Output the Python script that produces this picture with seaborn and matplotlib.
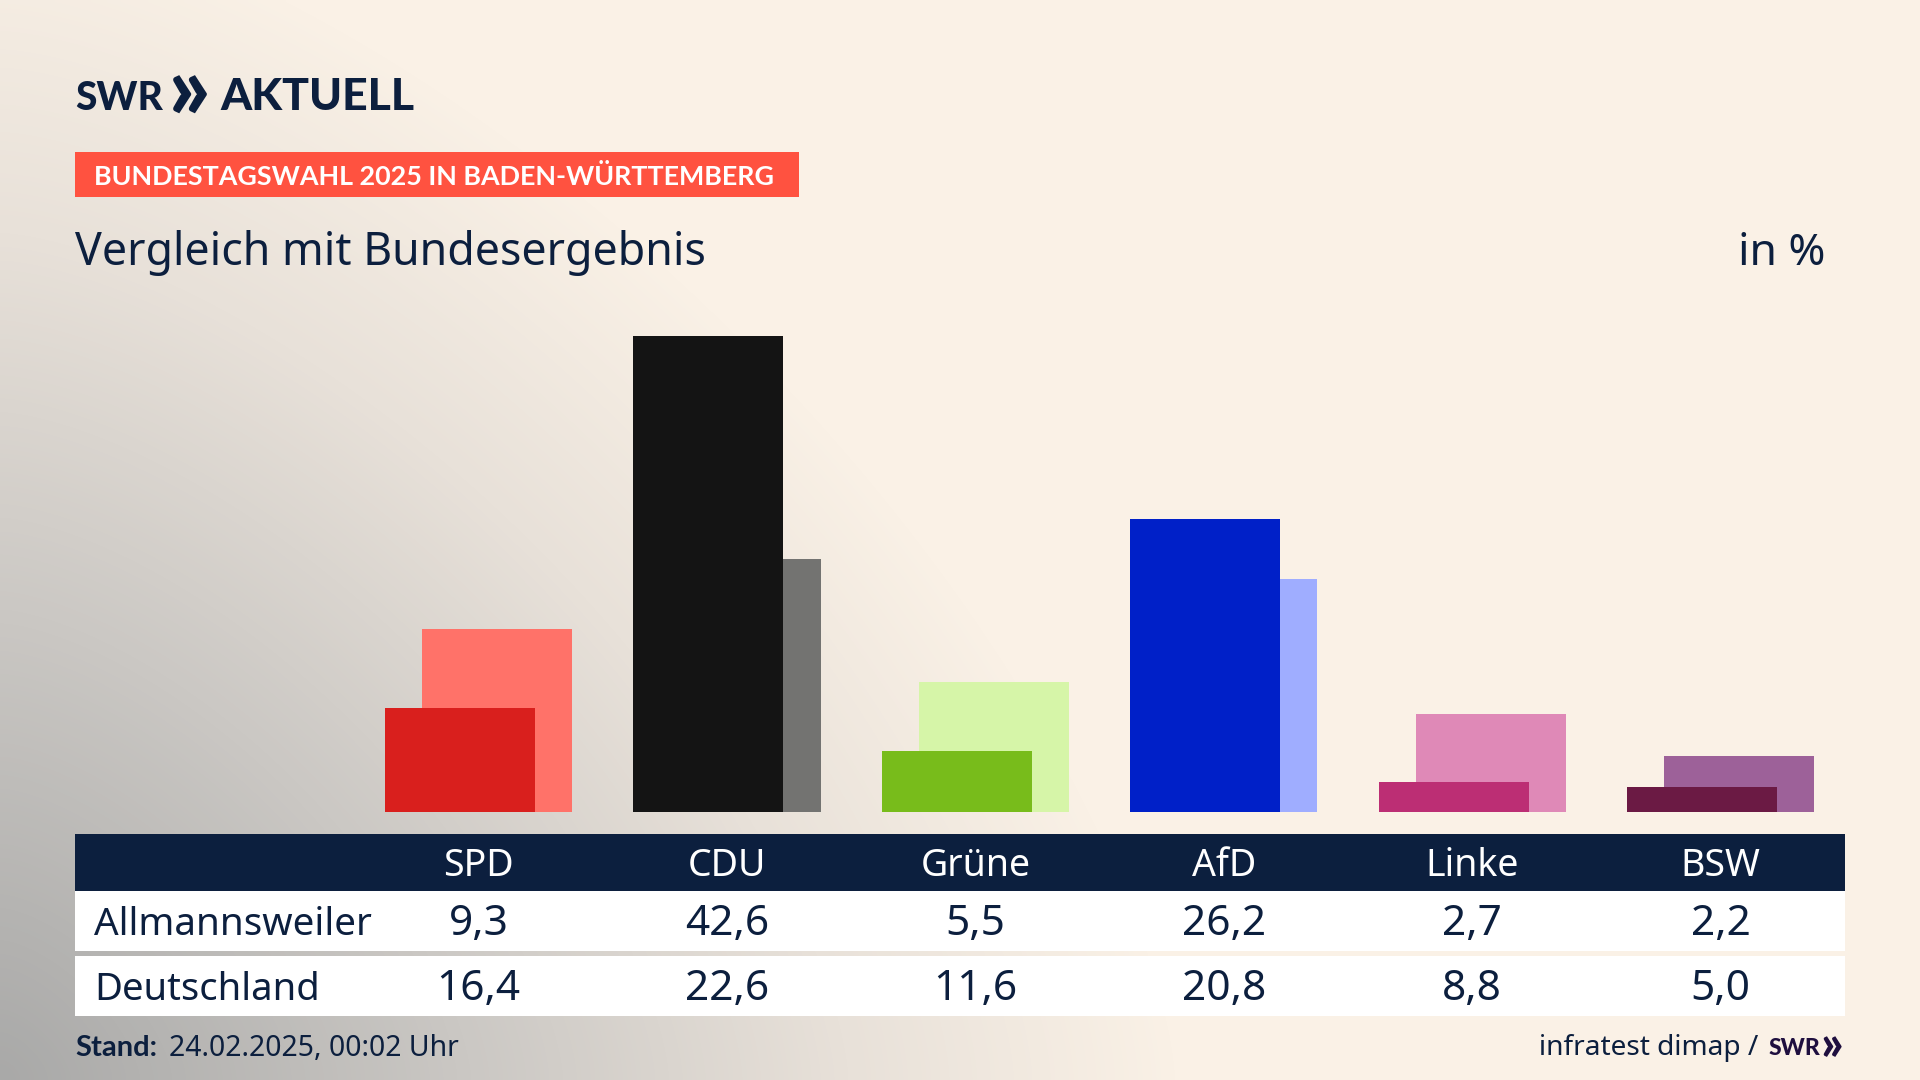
import matplotlib
matplotlib.use("Agg")
import matplotlib.pyplot as plt
from matplotlib.colors import LinearSegmentedColormap
from matplotlib.patches import Rectangle
import numpy as np
import pandas as pd
import seaborn as sns

parties = ["SPD", "CDU", "Grüne", "AfD", "Linke", "BSW"]
allmannsweiler = [9.3, 42.6, 5.5, 26.2, 2.7, 2.2]
deutschland = [16.4, 22.6, 11.6, 20.8, 8.8, 5.0]
front_colors = ["#D91F1D", "#141414", "#78BC1B", "#0020C8", "#BC2E74", "#6B1A44"]
back_colors = ["#FF7269", "#737371", "#D6F5A8", "#9FADFF", "#DF89B7", "#9D6199"]
row_labels = ["Allmannsweiler", "Deutschland"]

NAVY = "#0C1F3E"
CREAM = "#FAF1E6"
WIDTH, HEIGHT = 1920, 1080

# pixel layout of the bar area
BASELINE = 812
PX_PER_UNIT = 11.18
GROUP_STEP = 248.4
FIRST_GROUP = 478.6
BAR_OFFSET = 18.6 / GROUP_STEP
BAR_WIDTH = 150 / GROUP_STEP

sns.set_theme(style="white")
plt.rcParams["font.family"] = ["Noto Sans", "DejaVu Sans"]

fig = plt.figure(figsize=(19.2, 10.8), dpi=100)

# background, pixel coordinates
ax_bg = fig.add_axes([0, 0, 1, 1], zorder=0)
yy, xx = np.mgrid[0:HEIGHT:270j, 0:WIDTH:480j]
dist = ((xx / 1180) ** 1.5 + ((HEIGHT - yy) / 1180) ** 1.5) ** (1 / 1.5)
cmap = LinearSegmentedColormap.from_list(
    "bg", [(0, "#A9A9A8"), (0.4, "#CBC8C4"), (0.72, "#E8E1D9"), (1, CREAM)]
)
ax_bg.imshow(np.clip(dist, 0, 1), cmap=cmap, vmin=0, vmax=1, aspect="auto",
             extent=[0, WIDTH, HEIGHT, 0], interpolation="bilinear")
ax_bg.set_xlim(0, WIDTH)
ax_bg.set_ylim(HEIGHT, 0)
ax_bg.axis("off")

# bars
ax = fig.add_axes([0, 0, 1, 1], zorder=1)
ax.patch.set_alpha(0)
idx = np.arange(len(parties))
df_back = pd.DataFrame({"x": idx + BAR_OFFSET, "value": deutschland, "party": parties})
df_front = pd.DataFrame({"x": idx - BAR_OFFSET, "value": allmannsweiler, "party": parties})
sns.barplot(data=df_back, x="x", y="value", hue="party", palette=back_colors, dodge=False,
            native_scale=True, width=BAR_WIDTH, saturation=1, legend=False, linewidth=0, ax=ax)
sns.barplot(data=df_front, x="x", y="value", hue="party", palette=front_colors, dodge=False,
            native_scale=True, width=BAR_WIDTH, saturation=1, legend=False, linewidth=0, ax=ax)
ax.set_xlim(-FIRST_GROUP / GROUP_STEP, (WIDTH - FIRST_GROUP) / GROUP_STEP)
ax.set_ylim(-(HEIGHT - BASELINE) / PX_PER_UNIT, BASELINE / PX_PER_UNIT)
ax.axis("off")

# table and texts, pixel coordinates
ov = fig.add_axes([0, 0, 1, 1], zorder=2)
ov.patch.set_alpha(0)
ov.set_xlim(0, WIDTH)
ov.set_ylim(HEIGHT, 0)
ov.axis("off")

ov.add_patch(Rectangle((75, 152), 724, 45, color="#FF5240", lw=0))
ov.add_patch(Rectangle((75, 834), 1770, 57, color=NAVY, lw=0))
ov.add_patch(Rectangle((75, 891), 1770, 60, color="white", lw=0))
ov.add_patch(Rectangle((75, 956), 1770, 60, color="white", lw=0))


def txt(x, y, s, size, color=NAVY, weight="normal", ha="left", family=None):
    return ov.text(x, y, s, fontsize=size, color=color, fontweight=weight, ha=ha, va="baseline",
                   family=family or ["Noto Sans", "DejaVu Sans"])


txt(75, 110, "SWR", 28, weight="black", family=["Lato"])
txt(167, 120, "»", 66, weight="black", family=["Lato"])
txt(220, 110, "AKTUELL", 32, weight="black", family=["Lato"])
txt(94, 185, "BUNDESTAGSWAHL 2025 IN BADEN-WÜRTTEMBERG", 19.4, color="white", weight="bold", family=["Lato"])
txt(75, 265, "Vergleich mit Bundesergebnis", 32.2)
txt(1825, 265, "in %", 32, ha="right")

for i, party in enumerate(parties):
    cx = FIRST_GROUP + GROUP_STEP * i
    txt(cx, 876, party, 27, color="white", ha="center")
    txt(cx, 935, f"{allmannsweiler[i]:.1f}".replace(".", ","), 30.5, ha="center")
    txt(cx, 1000, f"{deutschland[i]:.1f}".replace(".", ","), 30.5, ha="center")

txt(94, 935, row_labels[0], 27.8)
txt(94, 1000, row_labels[1], 27.5)

txt(75, 1056, "Stand:", 21, weight="bold", family=["Lato"])
txt(169, 1056, "24.02.2025, 00:02 Uhr", 20.4)
txt(1758, 1055, "infratest dimap /", 20.2, ha="right")
txt(1769, 1055, "SWR", 16.5, color="#1F0F3F", weight="black", family=["Lato"])
txt(1820, 1060, "»", 35, color="#1F0F3F", weight="black", family=["Lato"])

fig.savefig("out.png", dpi=100)
